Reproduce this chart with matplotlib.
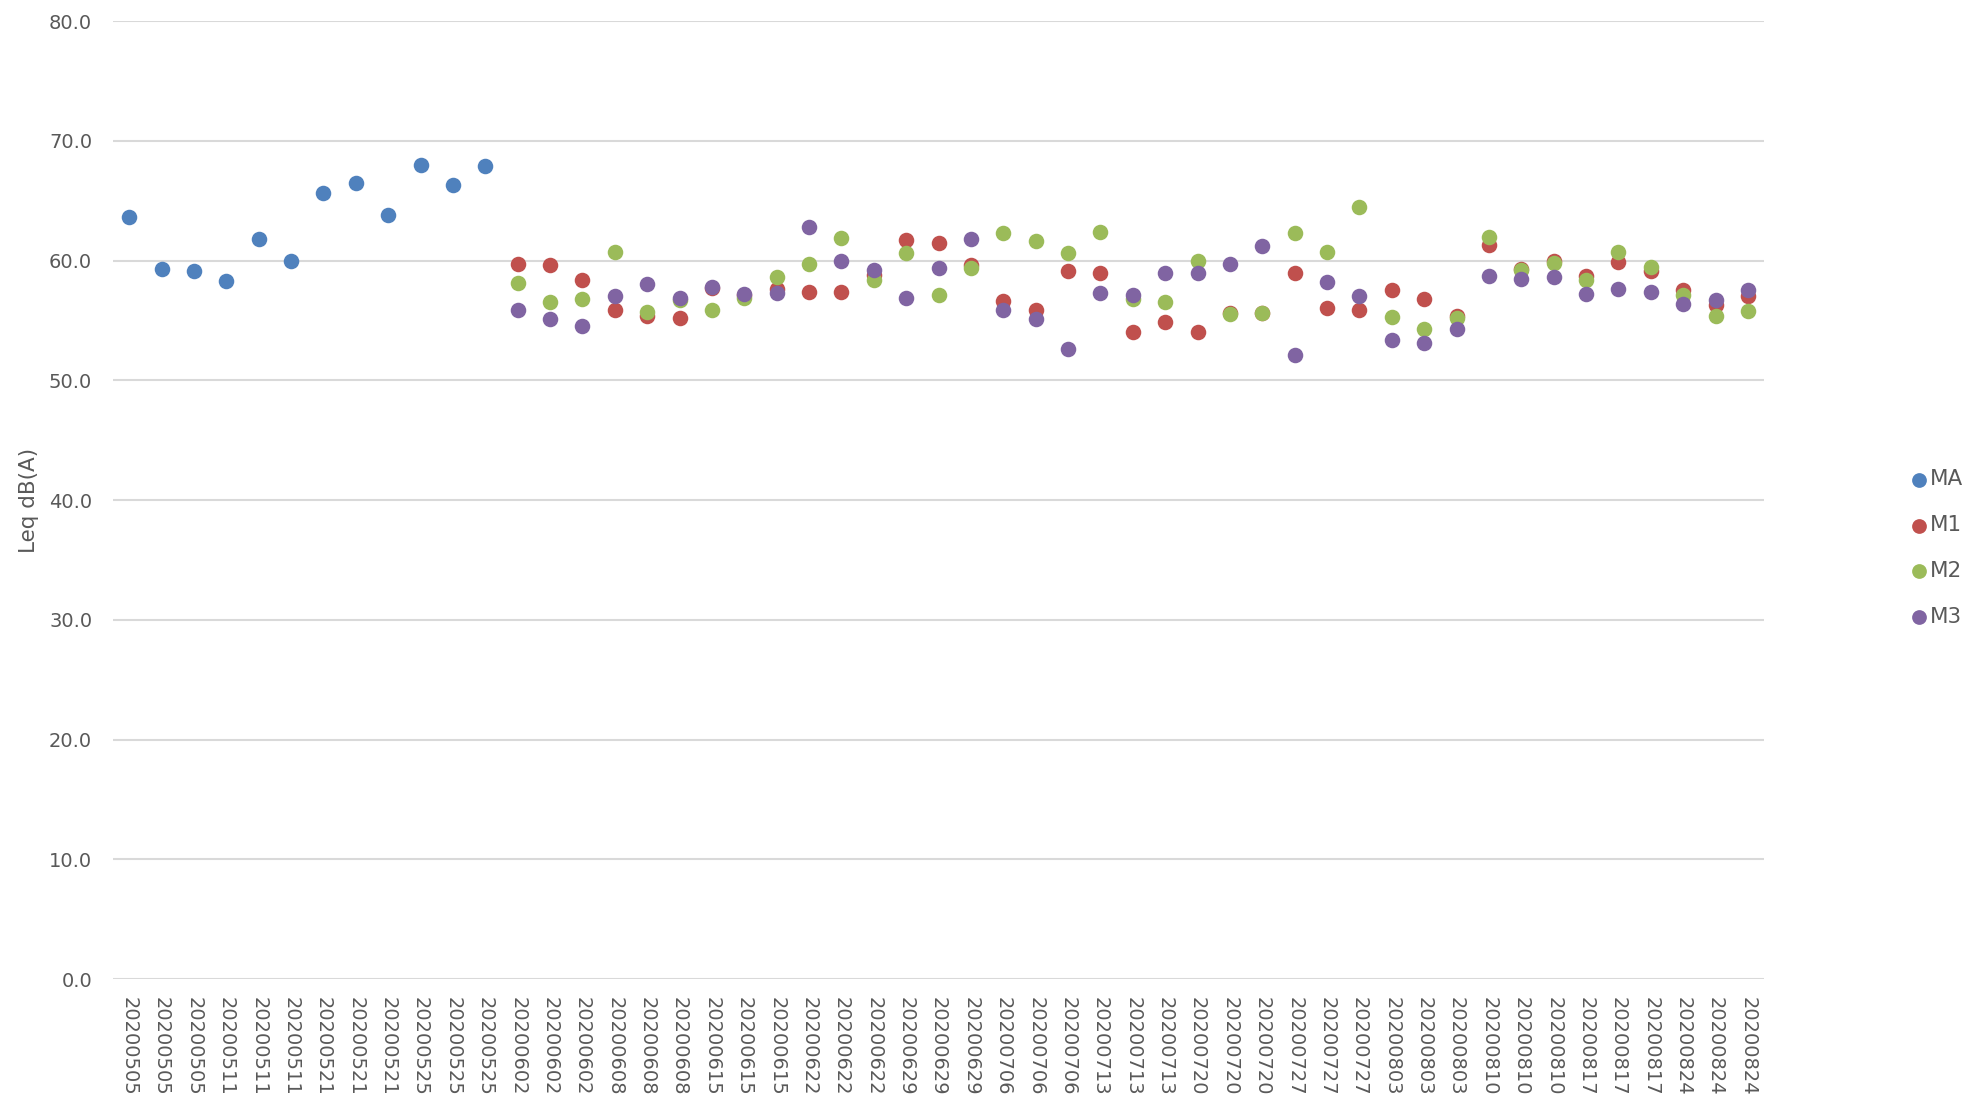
import matplotlib
matplotlib.use('Agg')
import matplotlib.pyplot as plt
from matplotlib.ticker import FormatStrFormatter

# sampling dates, three runs per date
dates = ['20200505', '20200511', '20200521', '20200525', '20200602', '20200608',
         '20200615', '20200622', '20200629', '20200706', '20200713', '20200720',
         '20200727', '20200803', '20200810', '20200817', '20200824']
labels = [d for d in dates for _ in range(3)]

# MA only measured on the first 12 runs
ma = [63.6, 59.3, 59.1, 58.3, 61.8, 60.0, 65.6, 66.5, 63.8, 68.0, 66.3, 67.9]

# M1 / M2 / M3 start from 20200602 (index 12)
m1 = [59.7, 59.6, 58.4, 55.9, 55.4, 55.2, 57.7, 57.1, 57.6, 57.4, 57.4, 58.8,
      61.7, 61.5, 59.6, 56.6, 55.9, 59.1, 59.0, 54.0, 54.9, 54.0, 55.6, 55.6,
      59.0, 56.0, 55.9, 57.5, 56.8, 55.4, 61.3, 59.3, 60.0, 58.7, 59.9, 59.1,
      57.5, 56.3, 57.0]
m2 = [58.1, 56.5, 56.8, 60.7, 55.7, 56.7, 55.9, 56.9, 58.6, 59.7, 61.9, 58.4,
      60.6, 57.1, 59.4, 62.3, 61.6, 60.6, 62.4, 56.8, 56.5, 60.0, 55.5, 55.6,
      62.3, 60.7, 64.5, 55.3, 54.3, 55.2, 62.0, 59.2, 59.8, 58.4, 60.7, 59.5,
      57.1, 55.4, 55.8]
m3 = [55.9, 55.1, 54.5, 57.0, 58.0, 56.9, 57.8, 57.2, 57.3, 62.8, 60.0, 59.2,
      56.9, 59.4, 61.8, 55.9, 55.1, 52.6, 57.3, 57.1, 59.0, 59.0, 59.7, 61.2,
      52.1, 58.2, 57.0, 53.4, 53.1, 54.3, 58.7, 58.5, 58.6, 57.2, 57.6, 57.4,
      56.4, 56.7, 57.5]

x_ma = list(range(len(ma)))
x_m = list(range(12, 12 + len(m1)))

fig = plt.figure(figsize=(19.66, 10.94), dpi=100)
ax = fig.add_axes([0.0575, 0.105, 0.8398, 0.8758])

txt = '#595959'
ms = 125
ax.scatter(x_ma, ma, s=ms, color='#4F81BD', label='MA', zorder=3, linewidths=0)
ax.scatter(x_m, m1, s=ms, color='#C0504D', label='M1', zorder=3, linewidths=0)
ax.scatter(x_m, m2, s=ms, color='#9BBB59', label='M2', zorder=3, linewidths=0)
ax.scatter(x_m, m3, s=ms, color='#8064A2', label='M3', zorder=3, linewidths=0)

ax.set_xlim(-0.5, len(labels) - 0.5)
ax.set_ylim(0, 80)
ax.set_yticks(range(0, 81, 10))
ax.yaxis.set_major_formatter(FormatStrFormatter('%.1f'))
ax.set_xticks(range(len(labels)))
ax.set_xticklabels(labels, rotation=-90)
ax.grid(axis='y', color='#D9D9D9', linewidth=1.5)
ax.set_axisbelow(True)
for s in ax.spines.values():
    s.set_visible(False)
ax.tick_params(axis='both', length=0, colors=txt, labelsize=14)
ax.tick_params(axis='y', pad=15)
ax.tick_params(axis='x', pad=13)
ax.set_ylabel('Leq dB(A)', color=txt, fontsize=15.5, labelpad=7)

fig.legend(loc='center left', bbox_to_anchor=(0.965, 0.499), frameon=False,
           fontsize=15.5, handletextpad=0.0, labelspacing=1.2, borderpad=0,
           handlelength=1.0, labelcolor=txt, markerscale=0.95)

fig.savefig('out.png', dpi=100)
